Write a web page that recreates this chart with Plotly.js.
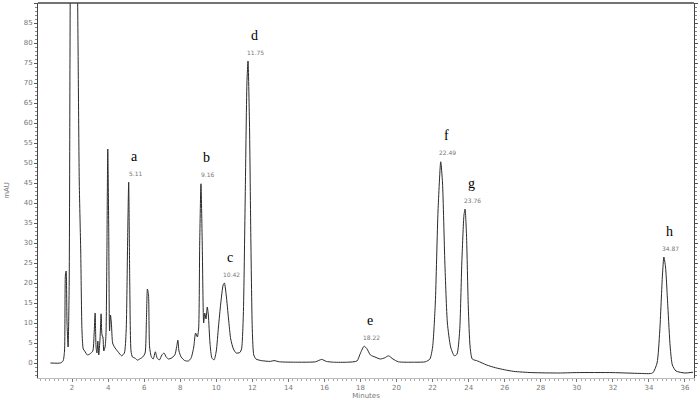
<!DOCTYPE html>
<html>
<head>
<meta charset="utf-8">
<script src="https://cdn.plot.ly/plotly-3.0.1.min.js"></script>
<style>
html,body{margin:0;padding:0;background:#fff;}
#chart{width:700px;height:400px;}
</style>
</head>
<body>
<div id="chart"></div>
<script>
// Retention time (minutes)
var times = [
 0.80,1.35,1.50,1.58,1.63,1.67,1.72,1.78,1.84,1.90,2.00,2.15,2.30,2.40,2.48,2.55,2.62,2.70,2.85,3.00,
 3.15,3.22,3.28,3.33,3.38,3.43,3.48,3.55,3.61,3.66,3.71,3.76,3.83,3.88,3.93,3.98,4.03,4.08,4.13,4.18,
 4.25,4.35,4.55,4.75,4.90,5.00,5.08,5.14,5.20,5.27,5.35,5.50,5.62,5.75,5.92,6.05,6.12,6.18,6.24,6.30,
 6.40,6.50,6.62,6.72,6.85,6.98,7.10,7.22,7.35,7.50,7.70,7.80,7.87,7.93,8.05,8.25,8.45,8.60,8.75,8.85,
 8.95,9.02,9.08,9.15,9.22,9.30,9.36,9.43,9.50,9.56,9.65,9.76,9.88,10.00,10.12,10.25,10.38,10.45,10.55,10.68,
 10.80,10.95,11.10,11.30,11.40,11.50,11.60,11.70,11.76,11.84,11.92,12.00,12.08,12.20,12.50,13.00,13.20,13.50,14.50,15.50,
 15.85,16.10,16.50,17.30,17.80,18.00,18.20,18.35,18.55,18.80,19.10,19.35,19.55,19.80,20.10,21.00,21.60,21.85,22.00,22.15,
 22.30,22.45,22.55,22.68,22.82,23.00,23.20,23.35,23.50,23.62,23.74,23.80,23.88,23.98,24.08,24.20,24.50,25.00,25.50,26.00,
 26.50,27.50,29.00,30.00,32.00,33.50,34.20,34.45,34.60,34.75,34.83,34.92,35.05,35.18,35.30,35.50,36.00,36.45
];
// Detector signal (mAU)
var signal = [
 0,0,0.5,3,22,23,10,4,20,95,150,150,95,45,28,8,3.5,3,2,2.3,
 3,7,12.5,4,2.5,5.5,2,6,12.3,7,6.5,3,4,7,26,53.5,35,8,12,10,
 5,4,2.8,1.8,2.5,8,30,45.2,20,3,1.5,1.2,0.7,1,1.5,2.5,10,18.5,17,4,
 1.5,1,2.8,1.2,0.8,2,2.5,1.5,1,1.2,2,4,5.7,3,1.5,0.6,0.5,1.2,4,7.5,
 6.5,8.5,30,44.8,30,10,12.5,11,14,12,5,1.2,0.8,3,9,15,19.5,20,17,11,
 6,3.5,2.5,2.6,3.5,12,40,70,75.5,60,30,8,2,1,0.6,0.4,0.6,0.3,0.2,0.3,
 0.9,0.4,0.2,0.2,0.5,2.5,4.2,3.6,2,1.5,1,1.3,1.8,1,0.3,0.2,0.3,1,4,15,
 38,50.3,45,25,10,4,1.8,2.2,8,25,37,38.5,32,14,4,1,0.5,-0.5,-1.2,-1.7,
 -2.1,-2.4,-2.5,-2.4,-2.4,-2.6,-2.5,0,8,22,26.5,24,14,4,-0.5,-2,-2.5,-2.3
];
// Labelled peaks
var peakLetters = ['a','b','c','d','e','f','g','h'];
var peakTimes = [5.11, 9.16, 10.42, 11.75, 18.22, 22.49, 23.76, 34.87];
var peakApexTimes = [5.14, 9.15, 10.45, 11.76, 18.20, 22.45, 23.80, 34.83];
var peakHeights = [45.2, 44.8, 20, 75.5, 4.2, 50.3, 38.5, 26.5];
// Axis ticks
var xTicks = [2,4,6,8,10,12,14,16,18,20,22,24,26,28,30,32,34,36];
var yTicks = [0,5,10,15,20,25,30,35,40,45,50,55,60,65,70,75,80,85,90];

var annotations = [];
for (var i = 0; i < peakLetters.length; i++) {
  annotations.push({
    x: peakApexTimes[i], y: peakHeights[i], xref: 'x', yref: 'y',
    text: peakLetters[i], showarrow: false, xshift: 6, yshift: 26,
    font: {family: 'Liberation Serif, Times New Roman, serif', size: 14, color: '#000'}
  });
  annotations.push({
    x: peakApexTimes[i], y: peakHeights[i], xref: 'x', yref: 'y',
    text: peakTimes[i].toFixed(2), showarrow: false, xshift: 7, yshift: 9,
    font: {family: 'DejaVu Sans, sans-serif', size: 6, color: '#777'}
  });
}

var trace = {
  x: times, y: signal, type: 'scatter', mode: 'lines',
  line: {color: '#2a2a2a', width: 1, shape: 'spline', smoothing: 0.6},
  hoverinfo: 'x+y', showlegend: false
};

var tickFont = {family: 'DejaVu Sans, sans-serif', size: 7, color: '#777'};

var layout = {
  width: 700, height: 400,
  margin: {l: 38, r: 6, t: 3, b: 22},
  paper_bgcolor: '#fff', plot_bgcolor: '#fff',
  showlegend: false,
  xaxis: {
    range: [0.11, 36.5],
    tickmode: 'array', tickvals: xTicks, ticktext: xTicks.map(String),
    ticks: 'outside', ticklen: 3, tickcolor: '#777', tickwidth: 1,
    minor: {dtick: 0.25, ticks: 'outside', ticklen: 2, tickcolor: '#aaa', tickwidth: 1, showgrid: false},
    showline: true, linecolor: '#bbb', linewidth: 1, mirror: false,
    showgrid: false, zeroline: false,
    tickfont: tickFont,
    title: {text: 'Minutes', font: {family: 'DejaVu Sans, sans-serif', size: 7, color: '#777'}, standoff: 2}
  },
  yaxis: {
    range: [-3.75, 90],
    tickmode: 'array', tickvals: yTicks, ticktext: yTicks.map(String),
    ticks: 'outside', ticklen: 3, tickcolor: '#555', tickwidth: 1,
    minor: {dtick: 1, ticks: 'outside', ticklen: 2, tickcolor: '#888', tickwidth: 1, showgrid: false},
    showline: true, linecolor: '#444', linewidth: 1, mirror: 'ticks',
    showgrid: false, zeroline: false,
    tickfont: tickFont,
    title: {text: 'mAU', font: {family: 'DejaVu Sans, sans-serif', size: 7, color: '#777'}, standoff: 13}
  },
  shapes: [
    {type: 'line', xref: 'paper', yref: 'paper', x0: 0, x1: 1, y0: 1, y1: 1,
     line: {color: '#444', width: 1.3}}
  ],
  annotations: annotations
};

Plotly.newPlot('chart', [trace], layout, {displayModeBar: false, staticPlot: true});
</script>
</body>
</html>
